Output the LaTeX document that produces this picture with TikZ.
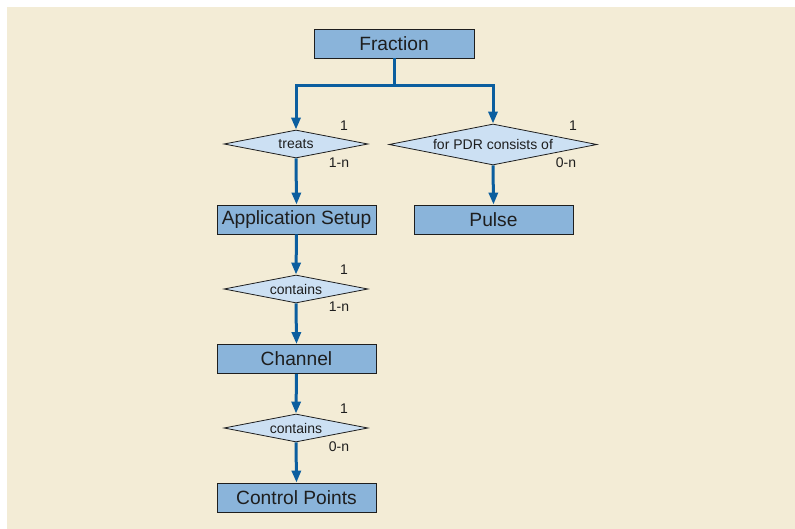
\documentclass[tikz,border=0pt]{standalone}
\usepackage{fontspec}
\setmainfont{Liberation Sans}
\usetikzlibrary{shapes.geometric,arrows.meta}
\definecolor{paper}{HTML}{F3ECD6}
\definecolor{entityfill}{HTML}{8AB4DA}
\definecolor{relfill}{HTML}{CCE0F3}
\definecolor{linkblue}{HTML}{0B5E9F}
\definecolor{inkgray}{HTML}{1E1E1E}

\begin{document}
\begin{tikzpicture}[x=1pt,y=-1pt,
    entity/.style={draw=inkgray, fill=entityfill, line width=0.8pt, minimum width=159pt, minimum height=29pt, inner sep=0pt, text=inkgray, font=\fontsize{19.2}{21}\selectfont},
    relation/.style={diamond, draw=inkgray, fill=relfill, line width=0.8pt, aspect=5, minimum width=144pt, minimum height=28pt, inner sep=0pt, text=inkgray, font=\fontsize{14}{16}\selectfont},
    card/.style={inner sep=0pt, text=inkgray, font=\fontsize{14}{16}\selectfont},
    link/.style={draw=linkblue, line width=3pt, -{Triangle[length=12pt,width=9pt]}}]
    \useasboundingbox (0,0) rectangle (795,529);
    \fill[white] (0,0) rectangle (795,529);
    \fill[paper] (7,7) rectangle (795,529); % background panel

    % Entities
    \node[entity, minimum width=160pt] (fraction) at (394,43.5) {Fraction};
    \node[entity] (setup) at (296.5,219.5) {Application Setup};
    \node[entity] (pulse) at (493.5,219.5) {Pulse};
    \node[entity] (channel) at (296.5,359) {Channel};
    \node[entity] (points) at (296.5,497.5) {Control Points};

    % Relations
    \node[relation] (treats) at (296,144) {treats};
    \node[relation, minimum width=208pt, minimum height=41pt] (pdr) at (493,144.5) {for PDR consists of};
    \node[relation] (contains1) at (296,289) {contains};
    \node[relation] (contains2) at (296,428) {contains};

    % Cardinalities
    \node[card] (treatsA) at (344,126) {1};
    \node[card] (treatsB) at (339,163) {1-n};
    \node[card] (pdrA) at (573,126) {1};
    \node[card] (pdrB) at (566,163) {0-n};
    \node[card] (contains1A) at (344,270) {1};
    \node[card] (contains1B) at (339,307) {1-n};
    \node[card] (contains2A) at (344,409) {1};
    \node[card] (contains2B) at (339,447) {0-n};

    % Links
    \coordinate (split) at (394,86);
    \draw[draw=linkblue, line width=3pt] (fraction.south) -- (split);
    \draw[link] (split) -| (treats.north);
    \draw[link] (split) -| (pdr.north);
    \draw[link] (treats.south) -- (setup.north);
    \draw[link] (pdr.south) -- (pulse.north);
    \draw[link] (setup.south) -- (contains1.north);
    \draw[link] (contains1.south) -- (channel.north);
    \draw[link] (channel.south) -- (contains2.north);
    \draw[link] (contains2.south) -- (points.north);
\end{tikzpicture}
\end{document}
